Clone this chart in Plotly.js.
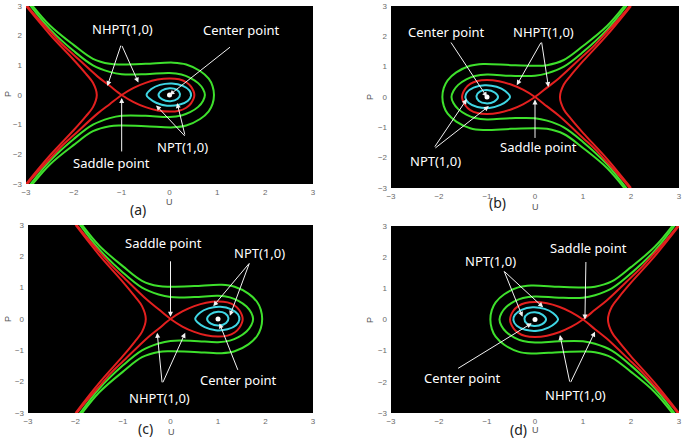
<!DOCTYPE html>
<html>
<head>
<meta charset="utf-8">
<script src="https://cdn.plot.ly/plotly-3.0.1.min.js"></script>
<style>html,body{margin:0;padding:0;background:#fff;}#chart{width:685px;height:439px;}</style>
</head>
<body>
<div id="chart"></div>
<script>
// ---- Separatrix (red curve through the saddle, with loop) ----
const sepP   = [3.05, 2.58, 2.15, 1.72, 1.35, 0.62, 0.31, 0.0, -0.24, -0.41, -0.52, -0.56, -0.53, -0.43, -0.28, 0.0, 0.28, 0.43, 0.53, 0.56, 0.52, 0.41, 0.24, 0.0, -0.31, -0.62, -1.35, -1.72, -2.15, -2.58, -3.05];
const sepU_a = [-3.0, -2.75, -2.5, -2.25, -2.0, -1.5, -1.25, -1.0, -0.75, -0.5, -0.25, 0.0, 0.2, 0.35, 0.45, 0.52, 0.45, 0.35, 0.2, 0.0, -0.25, -0.5, -0.75, -1.0, -1.25, -1.5, -2.0, -2.25, -2.5, -2.75, -3.0];
const sepU_b = [2.0, 1.75, 1.5, 1.25, 1.0, 0.5, 0.25, 0.0, -0.25, -0.5, -0.75, -1.0, -1.2, -1.35, -1.45, -1.52, -1.45, -1.35, -1.2, -1.0, -0.75, -0.5, -0.25, 0.0, 0.25, 0.5, 1.0, 1.25, 1.5, 1.75, 2.0];
const sepU_c = [-2.0, -1.75, -1.5, -1.25, -1.0, -0.5, -0.25, 0.0, 0.25, 0.5, 0.75, 1.0, 1.2, 1.35, 1.45, 1.52, 1.45, 1.35, 1.2, 1.0, 0.75, 0.5, 0.25, 0.0, -0.25, -0.5, -1.0, -1.25, -1.5, -1.75, -2.0];
const sepU_d = [3.0, 2.75, 2.5, 2.25, 2.0, 1.5, 1.25, 1.0, 0.75, 0.5, 0.25, 0.0, -0.2, -0.35, -0.45, -0.52, -0.45, -0.35, -0.2, 0.0, 0.25, 0.5, 0.75, 1.0, 1.25, 1.5, 2.0, 2.25, 2.5, 2.75, 3.0];

// ---- Outer red branch (hyperbola-like) ----
const hypP   = [3.0, 2.04, 1.18, 0.72, 0.41, 0.0, -0.41, -0.72, -1.18, -2.04, -3.0];
const hypU_a = [-3.0, -2.5, -2.0, -1.75, -1.6, -1.52, -1.6, -1.75, -2.0, -2.5, -3.0];
const hypU_b = [2.0, 1.5, 1.0, 0.75, 0.6, 0.52, 0.6, 0.75, 1.0, 1.5, 2.0];
const hypU_c = [-2.0, -1.5, -1.0, -0.75, -0.6, -0.52, -0.6, -0.75, -1.0, -1.5, -2.0];
const hypU_d = [3.0, 2.5, 2.0, 1.75, 1.6, 1.52, 1.6, 1.75, 2.0, 2.5, 3.0];

// ---- Inner green orbit ----
const gInP   = [3.1, 2.22, 1.48, 1.0, 0.78, 0.70, 0.70, 0.74, 0.69, 0.58, 0.4, 0.2, 0.0, -0.2, -0.4, -0.58, -0.69, -0.74, -0.70, -0.70, -0.78, -1.0, -1.48, -2.22, -3.1];
const gInU_a = [-2.95, -2.5, -2.0, -1.6, -1.25, -1.0, -0.5, 0.0, 0.25, 0.43, 0.6, 0.7, 0.74, 0.7, 0.6, 0.43, 0.25, 0.0, -0.5, -1.0, -1.25, -1.6, -2.0, -2.5, -2.95];
const gInU_b = [1.95, 1.5, 1.0, 0.6, 0.25, 0.0, -0.5, -1.0, -1.25, -1.43, -1.6, -1.7, -1.74, -1.7, -1.6, -1.43, -1.25, -1.0, -0.5, 0.0, 0.25, 0.6, 1.0, 1.5, 1.95];
const gInU_c = [-1.95, -1.5, -1.0, -0.6, -0.25, 0.0, 0.5, 1.0, 1.25, 1.43, 1.6, 1.7, 1.74, 1.7, 1.6, 1.43, 1.25, 1.0, 0.5, 0.0, -0.25, -0.6, -1.0, -1.5, -1.95];
const gInU_d = [2.95, 2.5, 2.0, 1.6, 1.25, 1.0, 0.5, 0.0, -0.25, -0.43, -0.6, -0.7, -0.74, -0.7, -0.6, -0.43, -0.25, 0.0, 0.5, 1.0, 1.25, 1.6, 2.0, 2.5, 2.95];

// ---- Outer green orbit ----
const gOutP   = [3.08, 2.34, 1.68, 1.22, 1.05, 1.03, 1.05, 1.09, 1.03, 0.81, 0.55, 0.3, 0.0, -0.3, -0.55, -0.81, -1.03, -1.09, -1.05, -1.03, -1.05, -1.22, -1.68, -2.34, -3.08];
const gOutU_a = [-2.9, -2.5, -2.0, -1.6, -1.25, -1.0, -0.5, 0.08, 0.35, 0.64, 0.82, 0.9, 0.93, 0.9, 0.82, 0.64, 0.35, 0.08, -0.5, -1.0, -1.25, -1.6, -2.0, -2.5, -2.9];
const gOutU_b = [1.9, 1.5, 1.0, 0.6, 0.25, 0.0, -0.5, -1.08, -1.35, -1.64, -1.82, -1.9, -1.93, -1.9, -1.82, -1.64, -1.35, -1.08, -0.5, 0.0, 0.25, 0.6, 1.0, 1.5, 1.9];
const gOutU_c = [-1.9, -1.5, -1.0, -0.6, -0.25, 0.0, 0.5, 1.08, 1.35, 1.64, 1.82, 1.9, 1.93, 1.9, 1.82, 1.64, 1.35, 1.08, 0.5, 0.0, -0.25, -0.6, -1.0, -1.5, -1.9];
const gOutU_d = [2.9, 2.5, 2.0, 1.6, 1.25, 1.0, 0.5, -0.08, -0.35, -0.64, -0.82, -0.9, -0.93, -0.9, -0.82, -0.64, -0.35, -0.08, 0.5, 1.0, 1.25, 1.6, 2.0, 2.5, 2.9];

// ---- Outer cyan closed orbit ----
const cOutP   = [0.39, 0.31, 0.15, -0.02, -0.2, -0.33, -0.36, -0.26, -0.12, 0.0, 0.2, 0.34, 0.39];
const cOutU_a = [0.05, 0.28, 0.42, 0.45, 0.38, 0.2, -0.05, -0.28, -0.42, -0.48, -0.38, -0.2, 0.05];
const cOutU_b = [-1.05, -1.28, -1.42, -1.45, -1.38, -1.2, -0.95, -0.72, -0.58, -0.52, -0.62, -0.8, -1.05];
const cOutU_c = [1.05, 1.28, 1.42, 1.45, 1.38, 1.2, 0.95, 0.72, 0.58, 0.52, 0.62, 0.8, 1.05];
const cOutU_d = [-0.05, -0.28, -0.42, -0.45, -0.38, -0.2, 0.05, 0.28, 0.42, 0.48, 0.38, 0.2, -0.05];

// ---- Inner cyan closed orbit ----
const cInP   = [0.23, 0.18, 0.03, -0.13, -0.21, -0.15, 0.0, 0.15, 0.23];
const cInU_a = [0.0, 0.15, 0.22, 0.17, 0.02, -0.15, -0.23, -0.16, 0.0];
const cInU_b = [-1.0, -1.15, -1.22, -1.17, -1.02, -0.85, -0.77, -0.84, -1.0];
const cInU_c = [1.0, 1.15, 1.22, 1.17, 1.02, 0.85, 0.77, 0.84, 1.0];
const cInU_d = [0.0, -0.15, -0.22, -0.17, -0.02, 0.15, 0.23, 0.16, 0.0];

// ---- Equilibria per panel (a,b,c,d) ----
const centerU = [0, -1, 1, 0];
const saddleU = [-1, 0, 0, 1];
const tickVals = [-3, -2, -1, 0, 1, 2, 3];
const panelLabels = ['(a)', '(b)', '(c)', '(d)'];

const W = 685, H = 439;
const RED = '#e3201f', GREEN = '#3ee02c', CYAN = '#3fd6e4';

const panels = [
  {sep: sepU_a, hyp: hypU_a, gin: gInU_a, gout: gOutU_a, cout: cOutU_a, cin: cInU_a},
  {sep: sepU_b, hyp: hypU_b, gin: gInU_b, gout: gOutU_b, cout: cOutU_b, cin: cInU_b},
  {sep: sepU_c, hyp: hypU_c, gin: gInU_c, gout: gOutU_c, cout: cOutU_c, cin: cInU_c},
  {sep: sepU_d, hyp: hypU_d, gin: gInU_d, gout: gOutU_d, cout: cOutU_d, cin: cInU_d}
];

// pixel boxes of the four plot areas [left, right, top, bottom]
const boxes = [
  [26, 313, 6, 184],
  [391, 679, 6, 188],
  [28, 313, 225, 413],
  [391, 679, 226, 413]
];

const traces = [];
panels.forEach((pn, i) => {
  const xa = i === 0 ? 'x' : 'x' + (i + 1);
  const ya = i === 0 ? 'y' : 'y' + (i + 1);
  const line = (u, p, c) => ({x: u, y: p, xaxis: xa, yaxis: ya, type: 'scatter', mode: 'lines',
    line: {color: c, width: 2, shape: 'spline', smoothing: 1}, hoverinfo: 'skip', showlegend: false});
  traces.push(line(pn.gout, gOutP, GREEN));
  traces.push(line(pn.gin, gInP, GREEN));
  traces.push(line(pn.hyp, hypP, RED));
  traces.push(line(pn.sep, sepP, RED));
  traces.push(line(pn.cout, cOutP, CYAN));
  traces.push(line(pn.cin, cInP, CYAN));
  traces.push({x: [centerU[i]], y: [0], xaxis: xa, yaxis: ya, type: 'scatter', mode: 'markers',
    marker: {color: '#ffffff', size: 5}, hoverinfo: 'skip', showlegend: false});
});

const layout = {
  width: W, height: H,
  margin: {l: 0, r: 0, t: 0, b: 0},
  paper_bgcolor: '#ffffff',
  plot_bgcolor: '#000000',
  showlegend: false,
  annotations: []
};

boxes.forEach((b, i) => {
  const sfx = i === 0 ? '' : String(i + 1);
  const common = {range: [-3, 3], tickvals: tickVals, showgrid: false, zeroline: false, showline: false,
    ticks: '', ticklabeloverflow: 'allow', tickfont: {size: 8, color: '#6a6a6a', family: 'Liberation Sans, Arial'}, fixedrange: true};
  layout['xaxis' + sfx] = Object.assign({}, common, {domain: [b[0] / W, b[1] / W], anchor: 'y' + sfx, ticklabelstandoff: 2});
  layout['yaxis' + sfx] = Object.assign({}, common, {domain: [1 - b[3] / H, 1 - b[2] / H], anchor: 'x' + sfx, ticklabelstandoff: 3});
});

const TXT = {family: 'Noto Sans, Open Sans, sans-serif', size: 13, color: '#ffffff'};
function label(px, py, text, font) {
  layout.annotations.push({xref: 'paper', yref: 'paper', x: px / W, y: 1 - py / H, text: text,
    showarrow: false, xanchor: 'center', yanchor: 'middle', font: font || TXT});
}
function arrow(i, hu, hp, ax, ay) {
  const sfx = i === 0 ? '' : String(i + 1);
  layout.annotations.push({xref: 'x' + sfx, yref: 'y' + sfx, x: hu, y: hp, ax: ax, ay: ay, text: '',
    showarrow: true, arrowhead: 2, arrowsize: 1, arrowwidth: 1, arrowcolor: '#f2f2f2', standoff: 0});
}

// Panel (a)
label(122, 29, 'NHPT(1,0)');
arrow(0, -1.3, 0.3, 14, -42);
arrow(0, -0.65, 0.42, -17, -38);
label(241, 30, 'Center point');
arrow(0, centerU[0], 0, 62, -49);
label(183, 147, 'NPT(1,0)');
arrow(0, -0.28, -0.35, 30, 32);
arrow(0, 0.16, -0.27, 8, 33);
label(111, 163, 'Saddle point');
arrow(0, saddleU[0], -0.1, 0, 55);

// Panel (b)
label(446, 32, 'Center point');
arrow(1, centerU[1], 0, -37, -56);
label(543, 32, 'NHPT(1,0)');
arrow(1, -0.38, 0.39, 25, -44);
arrow(1, 0.28, 0.33, -7, -46);
label(538, 147, 'Saddle point');
arrow(1, saddleU[1], -0.08, 0, 40);
label(435, 161, 'NPT(1,0)');
arrow(1, -1.42, -0.07, -33, 49);
arrow(1, -0.96, -0.3, -55, 43);

// Panel (c)
label(163, 243, 'Saddle point');
arrow(2, saddleU[2], 0.07, 0, -57);
label(259, 253, 'NPT(1,0)');
arrow(2, 0.9, 0.41, 37, -44);
arrow(2, 1.25, 0.1, 20, -54);
label(238, 380, 'Center point');
arrow(2, 1.03, -0.14, 19, 48);
label(159, 398, 'NHPT(1,0)');
arrow(2, -0.28, -0.44, 5, 51);
arrow(2, 0.31, -0.44, -23, 51);

// Panel (d)
label(490, 261, 'NPT(1,0)');
arrow(3, -0.26, 0.09, -19, -47);
arrow(3, 0.17, 0.39, -40, -37);
label(588, 248, 'Saddle point');
arrow(3, saddleU[3] + 0.04, 0.0, 1, -59);
label(462, 378, 'Center point');
arrow(3, -0.07, -0.12, -75, 46);
label(575, 395, 'NHPT(1,0)');
arrow(3, 0.52, -0.5, 10, 48);
arrow(3, 1.25, -0.39, -25, 52);

// axis letters and panel labels
const AX = {family: 'Liberation Sans, Arial', size: 9, color: '#555555'};
const PL = {family: 'Noto Sans, Open Sans, sans-serif', size: 14, color: '#222222'};
[[169, 202], [535, 207], [171, 432], [535, 430]].forEach(q => label(q[0], q[1], 'U', AX));
[[8, 94], [370, 97], [8, 319], [370, 320]].forEach(q => {
  layout.annotations.push({xref: 'paper', yref: 'paper', x: q[0] / W, y: 1 - q[1] / H, text: 'P',
    showarrow: false, textangle: -90, xanchor: 'center', yanchor: 'middle', font: AX});
});
[[138, 210], [497, 202], [145, 428], [518, 429]].forEach((q, i) => label(q[0], q[1], panelLabels[i], PL));

Plotly.newPlot('chart', traces, layout, {staticPlot: true, displayModeBar: false});
</script>
</body>
</html>
